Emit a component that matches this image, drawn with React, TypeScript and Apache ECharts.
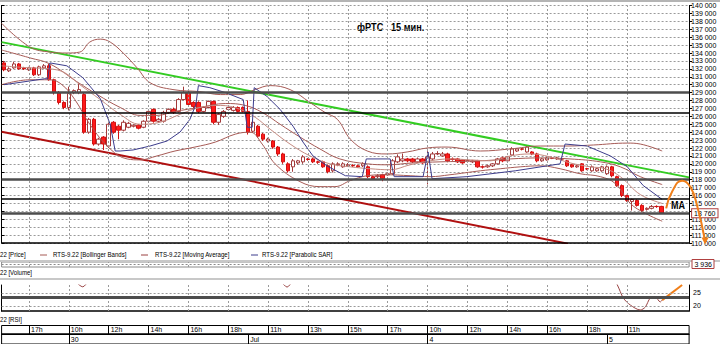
import React, { useEffect, useRef } from 'react';
import * as echarts from 'echarts';

// ---------- data ----------
const SLOT_COUNT = 138;
const slots = Array.from({ length: SLOT_COUNT }, (_, i) => String(i));

// [open, close, low, high] per 15-minute bar
const ohlc: number[][] = [
  [132750,131880,131700,133000],[131750,132000,131600,132200],[132120,132620,132000,132900],[132620,132000,131900,132750],
  [132120,132000,131850,132250],[131880,132120,131750,132250],[132120,131250,131100,132250],[131250,132250,131100,132400],
  [132120,132380,132000,132600],[132380,130620,130500,132600],[130620,129000,128750,130750],[129000,127750,127500,129200],
  [127750,127120,126900,127900],[127120,128880,126750,129750],[129000,129250,128800,129400],[129000,129380,128800,130200],
  [128750,124000,123800,129000],[124000,125620,123800,125800],[125620,122500,122300,125800],[122500,123120,122300,123300],
  [123380,122500,121750,123500],[122250,125000,122000,125200],[125250,124000,123800,125400],[124750,124250,123100,124900],
  [124250,125250,124100,125500],[124620,125120,124500,125300],[124750,124880,124600,125000],[124880,124500,124350,125000],
  [124620,125380,124500,125500],[125380,126620,125200,126800],[126880,125380,125200,127000],[125380,125620,125200,125800],
  [125380,126500,125200,126700],[126500,126880,126300,127000],[126880,126500,126300,127100],[126620,128120,126500,128300],
  [128120,129000,128000,129750],[129000,127500,127300,129200],[127750,127250,127000,127900],[127750,126620,126400,127900],
  [126620,127120,126500,127300],[127120,127880,127000,128000],[127880,125250,125000,128000],[125250,126250,124900,126400],
  [126000,126620,125800,126800],[126880,127120,126750,127300],[126750,127120,126600,127300],[127120,126620,126500,127250],
  [127120,126620,126500,127250],[126620,124000,123700,128000],[124120,125250,123900,125500],[124750,123500,123300,124900],
  [123750,123120,122900,123900],[122880,123120,122700,123300],[122880,122120,121900,123000],[122120,121250,121000,122250],
  [121250,120250,120000,121400],[120000,119120,118900,120200],[119620,120380,119000,120600],[120120,120380,119900,120500],
  [120250,120880,120000,121100],[120620,120550,120400,120750],[120620,120250,120100,120750],[120250,120200,120000,120400],
  [120250,119620,119500,120400],[119750,119000,118800,119900],[119120,120000,118900,120200],[119880,120000,119700,120200],
  [119620,120000,119500,120200],[119750,119880,119600,120100],[119800,119750,119600,119950],[119750,119620,119500,119900],
  [119750,120000,119600,120200],[119620,118380,118200,119800],[118380,118120,118000,118500],[118380,118500,118200,118700],
  [118620,118120,117800,118750],[118620,118750,118500,118900],[118750,120380,118600,120600],[120250,120880,120100,121200],
  [120380,120620,120200,121300],[120620,120380,120200,120750],[120620,120250,120100,120750],[120250,120620,120100,120800],
  [120620,120120,120000,120750],[120250,120880,117400,121600],[120620,121250,120500,121500],[121250,121300,121100,121600],
  [121000,121250,120900,121500],[121250,120380,120200,121400],[120620,120550,120400,120800],[120620,120250,120100,120750],
  [120500,120120,120000,120600],[120380,120400,120200,120600],[120250,120380,120100,120500],[120380,119620,119500,120500],
  [119620,119600,119400,119800],[119620,119750,119500,119900],[119750,120000,119600,120100],[120000,120620,119900,120750],
  [120750,120380,120200,120900],[120380,120880,120250,121000],[121120,121880,121000,122100],[121620,121880,121500,122000],
  [121880,121850,121700,122000],[121500,122120,121400,122300],[121500,121250,121100,121600],[121250,120380,120200,121400],
  [120380,120620,120250,120750],[120500,120750,120400,120900],[120750,120700,120600,120900],[120620,120750,120500,120900],
  [120620,120600,120450,120750],[120380,119750,119600,120500],[119880,119620,119500,120000],[119620,119750,119500,119900],
  [120000,119120,119000,120100],[119380,119350,119200,119500],[119120,119620,119000,119800],[119120,119380,119000,119500],
  [119120,119620,119000,119750],[118750,119620,118600,119800],[119620,118500,118300,119750],[118380,117250,117100,118500],
  [117250,116000,115800,117400],[116000,115380,115200,116100],[115250,115500,114100,115600],[115380,114750,114600,115500],
  [114750,114120,113900,114900],[114250,114380,114100,114500],[114380,114620,114250,114800],[114620,114600,114450,114750],
  [114620,113760,113700,114700],
];

// [slot, price] samples
const bollUpper = [
  [-0.5,137750],[5.2,134750],[9.2,134120],[12.6,134000],[15.2,134120],[17.2,135380],[19.3,135750],[21.3,135380],
  [23.9,134000],[26.7,132120],[29.3,130250],[33.9,129380],[39.3,129120],[43.4,128750],[47.4,128750],[50.4,129380],
  [53.4,129880],[57.4,129380],[61.4,127750],[64.4,126500],[66.9,125620],[69.5,123120],[72.9,121620],[76.9,121250],
  [80.9,121500],[84.9,122000],[88.9,122120],[95.6,121620],[101.6,121880],[107.6,122250],[113.0,122250],[118.3,122380],
  [125.1,122620],[127.7,122500],[132.1,121620],
];
const bollMiddle = [
  [-0.5,134380],[5.2,133380],[9.2,132620],[14.6,130380],[18.7,128750],[23.3,127120],[27.3,126120],[30.7,126120],
  [34.3,126620],[39.3,127120],[44.4,127620],[48.4,127380],[51.8,126500],[55.4,125000],[59.4,123380],[63.4,121880],
  [67.4,120620],[72.9,120000],[76.9,119880],[82.1,120120],[87.5,120250],[95.6,120380],[101.6,120620],[107.6,120750],
  [113.6,120620],[119.7,120250],[123.7,119620],[127.7,118380],[132.1,117380],
];
const bollLower = [
  [-0.5,130000],[5.2,130620],[9.2,130620],[11.6,130000],[14.2,128120],[17.2,125000],[21.3,121880],[24.7,120620],
  [27.3,120500],[30.7,121000],[34.3,121620],[38.3,122120],[42.4,122750],[46.4,123750],[49.4,124000],[51.8,122500],
  [54.4,120000],[59.4,117750],[63.4,117120],[66.4,117120],[69.5,117880],[72.9,118500],[76.5,118620],[81.5,118500],
  [85.5,118380],[89.5,118620],[95.6,119120],[99.6,119380],[103.6,119620],[107.6,119750],[111.6,119380],[115.6,118750],
  [119.7,118380],[122.7,117500],[125.7,115000],[128.7,113750],[132.1,112750],
];
const movingAverage = [
  [-0.5,132380],[5.2,132120],[9.2,132000],[12.2,131500],[15.2,130000],[19.3,128120],[23.3,126250],[27.3,125000],
  [31.3,125250],[35.3,126250],[39.3,127120],[43.4,127380],[47.4,126880],[50.4,125880],[53.4,124380],[57.4,122500],
  [61.4,121000],[65.4,120000],[69.5,119620],[73.5,119380],[77.5,119250],[81.5,119880],[85.5,120380],[89.5,120620],
  [93.6,120500],[97.6,120380],[101.6,121000],[105.6,121250],[109.6,120880],[113.6,120120],[117.7,119620],[120.7,119380],
  [123.7,118380],[127.7,116120],[132.1,115000],
];
const parabolicSar = [
  [0,130000],[4.2,130380],[8.2,130750],[8.8,130750],[9.2,132750],[12.6,132380],[15.8,130880],[19.3,128250],
  [21.3,125000],[22.3,121620],[23.3,121620],[25.9,121750],[29.3,122250],[32.7,122880],[35.3,124000],[37.3,125620],
  [38.5,127500],[39.0,129880],[41.3,129620],[44.4,129000],[48.0,128120],[48.8,124620],[49.8,124620],[50.2,129620],
  [52.8,128500],[55.4,126880],[58.0,124750],[60.0,122750],[62.0,121000],[64.8,119750],[68.5,118500],[71.9,118380],
  [72.7,120620],[77.5,120620],[78.3,118380],[84.1,118380],[85.1,121500],[85.9,118120],[92.9,118380],[102.6,119120],
  [111.6,120000],[112.6,122500],[117.0,122250],[121.7,121000],[125.1,119620],[128.3,117250],[132.1,115500],
];
const upperTrend = [[-0.5,135375],[137.5,118290]];
const lowerTrend = [[-0.5,124050],[113.2,109910]];
const thickLevels = [129000, 118100];
const thinLevels = [126400, 115600, 110000];
const lastPrice = 113760;
const lastPriceLabel = '13 760';
const hiddenPriceLabel = 114000; // covered by the last-price box
const forecastArc = [[132.9,114375],[134.1,116500],[136.1,117875],[137.7,117125],[139.1,114750],[140.7,110250]];

const rsiValues = [
  [14.5,29],[15.8,27.3],[17,29],[55.5,29],[56.8,27.2],[58,29],[122.5,29.5],[123.1,28],[124.3,23.0],
  [125.7,20.3],[127.7,18.4],[128.7,19.5],[129.7,23.0],[130.7,23.4],[131.7,21.5],[132.1,22.2],
];
const rsiForecast = [[132.1,22.2],[136.1,28]];
const rsiLevels = [25, 20];
const rsiBand = 23.4;
const lastVolumeLabel = '3 936';

const hourSlots = [5,13,21,29,37,45,53,61,69,77,85,93,101,109,117,125];
const hourLabels = ['17h','10h','12h','14h','16h','18h','11h','13h','15h','17h','10h','12h','14h','16h','18h','11h'];
const daySlots = [13,49,85,121];
const dayLabels = ['30','Jul','4','5'];

// ---------- styling ----------
const FONT = "'Liberation Sans',Arial,sans-serif";
const GL = 1.6;
const GW = 687.5;
const SLOT_PX = GW / SLOT_COUNT;
const WIDE_W = 720 - GL;
const WIDE_MAX = -0.5 + WIDE_W / SLOT_PX;
const BB_COLOR = '#a65a55';
const MA_COLOR = '#c48a80';
const SAR_COLOR = '#3c3c8c';
const GRID_DASH = { color: '#9a9a9a', type: [2, 2] as number[], width: 1 };

const fmtThousands = (v: number) =>
  v === hiddenPriceLabel ? '' : String(v).replace(/\B(?=(\d{3})+(?!\d))/g, ' ');
const hourMap: Record<number, string> = {};
hourSlots.forEach((s, i) => (hourMap[s] = hourLabels[i]));
const dayMap: Record<number, string> = {};
daySlots.forEach((s, i) => (dayMap[s] = dayLabels[i]));

function buildOption(): any {
  const vLines = hourSlots.map((s) => ({ xAxis: s, lineStyle: GRID_DASH }));
  const isHour = (i: number) => hourSlots.includes(i);
  const isDay = (i: number) => daySlots.includes(i);
  const noLine = { show: false };

  const txt = (text: string, x: number, y: number, extra: any = {}, sx = 0.76) => ({
    type: 'text', x, y, scaleX: sx, silent: true,
    style: { text, fill: '#000', fontSize: 8, fontFamily: FONT, verticalAlign: 'middle', ...extra },
  });
  const dash = (x: number, y: number, color: string) => ({
    type: 'line', silent: true, shape: { x1: x, y1: y, x2: x + 7, y2: y }, style: { stroke: color, lineWidth: 1 },
  });
  const timeLabel = (map: Record<number, string>) => ({
    inside: true, formatter: (v: string) => map[Number(v)] || '',
    align: 'left', padding: [0, 0, 0, 2], margin: 1, fontSize: 7, color: '#000', fontFamily: FONT,
  });

  return {
    animation: false,
    backgroundColor: '#ffffff',
    grid: [
      { left: GL, width: GW, top: 5.5, height: 237.5 },
      { left: GL, width: GW, top: 262, height: 5, show: true, borderColor: '#8a8a8a', borderWidth: 1 },
      { left: GL, width: GW, top: 285, height: 26 },
      { left: GL, width: GW, top: 325.5, height: 8.5, show: true, borderColor: '#000', borderWidth: 1, backgroundColor: '#fff' },
      { left: GL, width: GW, top: 334, height: 10, show: true, borderColor: '#000', borderWidth: 1, backgroundColor: '#fff' },
      { left: GL, width: WIDE_W, top: 5.5, height: 237.5 },
    ],
    xAxis: [
      { type: 'category', gridIndex: 0, data: slots, show: false },
      { type: 'value', gridIndex: 0, min: -0.5, max: 137.5, show: false },
      { type: 'value', gridIndex: 1, min: -0.5, max: 137.5, show: false },
      {
        type: 'value', gridIndex: 2, min: -0.5, max: 137.5,
        axisLine: { show: true, onZero: false, lineStyle: { color: '#000', width: 1.5 } },
        axisTick: noLine, axisLabel: noLine, splitLine: noLine,
      },
      {
        type: 'category', gridIndex: 3, data: slots, position: 'bottom',
        axisLine: { show: true, onZero: false, lineStyle: { color: '#000' } },
        axisTick: { show: true, inside: true, length: 8.5, alignWithLabel: true, interval: (i: number) => isHour(i), lineStyle: { color: '#000' } },
        axisLabel: { ...timeLabel(hourMap), interval: (i: number) => isHour(i) },
        splitLine: noLine,
      },
      {
        type: 'category', gridIndex: 4, data: slots, position: 'bottom',
        axisLine: { show: true, onZero: false, lineStyle: { color: '#000' } },
        axisTick: { show: true, inside: true, length: 10, alignWithLabel: true, interval: (i: number) => isDay(i), lineStyle: { color: '#000' } },
        axisLabel: { ...timeLabel(dayMap), interval: (i: number) => isDay(i) },
        splitLine: noLine,
      },
      { type: 'value', gridIndex: 5, min: -0.5, max: WIDE_MAX, show: false },
    ],
    yAxis: [
      {
        type: 'value', gridIndex: 0, position: 'right', min: 110000, max: 140000, interval: 1000,
        axisLine: { show: true, onZero: false, lineStyle: { color: '#000' } },
        axisTick: { show: true, length: 3, lineStyle: { color: '#000' } },
        axisLabel: { fontSize: 7, margin: 2, color: '#000', fontFamily: FONT, formatter: fmtThousands },
        splitLine: { show: true, lineStyle: GRID_DASH },
      },
      {
        type: 'value', gridIndex: 0, position: 'left', min: 110000, max: 140000, interval: 1000,
        axisLine: { show: true, onZero: false, lineStyle: { color: '#000' } },
        axisTick: { show: true, inside: true, length: 3, lineStyle: { color: '#000' } },
        axisLabel: noLine, splitLine: noLine,
      },
      { type: 'value', gridIndex: 1, min: 0, max: 1, show: false },
      {
        type: 'value', gridIndex: 2, position: 'right', min: 18, max: 28,
        axisLine: { show: true, onZero: false, lineStyle: { color: '#000' } },
        axisTick: noLine, axisLabel: noLine, splitLine: noLine,
      },
      {
        type: 'value', gridIndex: 2, position: 'left', min: 18, max: 28,
        axisLine: { show: true, onZero: false, lineStyle: { color: '#000' } },
        axisTick: noLine, axisLabel: noLine, splitLine: noLine,
      },
      { type: 'value', gridIndex: 3, show: false },
      { type: 'value', gridIndex: 4, show: false },
      { type: 'value', gridIndex: 5, min: 110000, max: 140000, show: false },
    ],
    series: [
      {
        name: 'upper trend', type: 'line', xAxisIndex: 1, yAxisIndex: 0, data: upperTrend, symbol: 'none',
        lineStyle: { color: '#33cc22', width: 2 },
        markLine: { silent: true, symbol: ['none', 'none'], label: noLine, data: vLines },
      },
      {
        name: 'lower trend', type: 'line', xAxisIndex: 1, yAxisIndex: 0, data: lowerTrend, symbol: 'none',
        lineStyle: { color: '#b01010', width: 2 },
        markLine: {
          silent: true, symbol: ['none', 'none'], label: noLine,
          data: [
            ...thickLevels.map((v) => ({ yAxis: v, lineStyle: { color: '#4d4d4d', width: 2.5, type: 'solid' } })),
            ...thinLevels.map((v) => ({ yAxis: v, lineStyle: { color: '#000', width: 1.5, type: 'solid' } })),
            {
              yAxis: lastPrice, lineStyle: { color: '#4d4d4d', width: 2.5, type: 'solid' },
              label: {
                show: true, position: 'end', distance: 3, formatter: lastPriceLabel, fontSize: 7, fontFamily: FONT,
                color: '#000', backgroundColor: '#fff', borderColor: '#b04040', borderWidth: 1, padding: [1, 2, 0, 2],
              },
            },
          ],
        },
      },
      { name: 'BB upper', type: 'line', xAxisIndex: 1, yAxisIndex: 0, data: bollUpper, symbol: 'none', smooth: 0.4, lineStyle: { color: BB_COLOR, width: 1 } },
      { name: 'BB middle', type: 'line', xAxisIndex: 1, yAxisIndex: 0, data: bollMiddle, symbol: 'none', smooth: 0.4, lineStyle: { color: BB_COLOR, width: 1 } },
      { name: 'BB lower', type: 'line', xAxisIndex: 1, yAxisIndex: 0, data: bollLower, symbol: 'none', smooth: 0.4, lineStyle: { color: BB_COLOR, width: 1 } },
      { name: 'MA', type: 'line', xAxisIndex: 1, yAxisIndex: 0, data: movingAverage, symbol: 'none', smooth: 0.4, lineStyle: { color: MA_COLOR, width: 1 } },
      { name: 'SAR', type: 'line', xAxisIndex: 1, yAxisIndex: 0, data: parabolicSar, symbol: 'none', lineStyle: { color: SAR_COLOR, width: 1 } },
      {
        name: 'Price', type: 'candlestick', xAxisIndex: 0, yAxisIndex: 0, data: ohlc, barWidth: 4,
        itemStyle: { color: '#ffffff', color0: '#ff1a1a', borderColor: '#a33a3a', borderColor0: '#d01010', borderWidth: 1 },
      },
      {
        name: 'forecast', type: 'line', xAxisIndex: 6, yAxisIndex: 7, clip: false, smooth: 0.5, symbol: 'none', z: 10,
        lineStyle: { color: '#f07f1a', width: 2 },
        data: forecastArc.map((p, i) =>
          i === forecastArc.length - 1
            ? { value: p, symbol: 'triangle', symbolSize: 7, symbolRotate: 180, itemStyle: { color: '#f07f1a' } }
            : { value: p }
        ),
      },
      {
        name: 'Volume', type: 'line', xAxisIndex: 2, yAxisIndex: 2, data: [[-0.5, 0.5], [137.5, 0.5]], symbol: 'none',
        lineStyle: { color: '#8a8a8a', width: 1, type: [2, 2] },
        markLine: { silent: true, symbol: ['none', 'none'], label: noLine, data: vLines },
      },
      {
        name: 'RSI', type: 'line', xAxisIndex: 3, yAxisIndex: 3, data: rsiValues, symbol: 'none', smooth: 0.3,
        lineStyle: { color: '#9a4545', width: 1 },
        markLine: {
          silent: true, symbol: ['none', 'none'], label: noLine,
          data: [
            ...vLines,
            { yAxis: rsiBand, lineStyle: { color: '#4d4d4d', width: 3, type: 'solid' } },
            ...rsiLevels.map((v) => ({
              yAxis: v, lineStyle: GRID_DASH,
              label: { show: true, position: 'end', distance: 4, formatter: String(v), fontSize: 7, fontFamily: FONT, color: '#000' },
            })),
          ],
        },
      },
      {
        name: 'RSI forecast', type: 'line', xAxisIndex: 3, yAxisIndex: 3, data: rsiForecast, symbol: 'none',
        lineStyle: { color: '#f07f1a', width: 2 },
      },
    ],
    graphic: [
      { type: 'rect', silent: true, shape: { x: 0, y: 0, width: 720, height: 2 }, style: { fill: '#b4b4b4' } },
      { type: 'rect', silent: true, shape: { x: 0, y: 260, width: 720, height: 2 }, style: { fill: '#c8c8c8' } },
      { type: 'rect', silent: true, shape: { x: 0, y: 278, width: 720, height: 2 }, style: { fill: '#c8c8c8' } },
      txt('фРТС', 357, 27, { fontSize: 10, fontWeight: 'bold' }, 0.92),
      txt('15 мин.', 391, 27, { fontSize: 10, fontWeight: 'bold' }, 0.92),
      txt('MA', 671, 205, { fontSize: 10, fontWeight: 'bold' }, 0.9),
      txt('22 [Price]', 0, 255),
      dash(40, 255, BB_COLOR),
      txt('RTS-9.22 [Bollinger Bands]', 53, 255),
      dash(141, 255, '#9a4040'),
      txt('RTS-9.22 [Moving Average]', 155, 255),
      dash(251, 255, SAR_COLOR),
      txt('RTS-9.22 [Parabolic SAR]', 262, 255),
      txt('22 [Volume]', 0, 273),
      txt('22 [RSI]', 0, 320),
      {
        type: 'group', silent: true, children: [
          { type: 'rect', shape: { x: 692, y: 259.5, width: 22, height: 9 }, style: { fill: '#fff', stroke: '#b04040', lineWidth: 1 } },
          txt(lastVolumeLabel, 694.5, 264.5, { fontSize: 7 }, 1),
        ],
      },
    ],
  };
}

export default function App() {
  const ref = useRef<HTMLDivElement>(null);
  useEffect(() => {
    document.body.style.margin = '0';
    if (!ref.current) return;
    const chart = echarts.init(ref.current, undefined, { renderer: 'svg' });
    try {
      chart.setOption(buildOption());
    } catch (e: any) {
      const d = document.createElement('pre');
      d.textContent = String(e && e.stack);
      d.style.cssText = 'position:fixed;left:0;top:0;font-size:9px;z-index:9';
      document.body.appendChild(d);
    }
    return () => chart.dispose();
  }, []);
  return (
    <div
      ref={ref}
      style={{ position: 'fixed', left: 0, top: 0, width: 720, height: 344, background: '#fff' }}
    />
  );
}
